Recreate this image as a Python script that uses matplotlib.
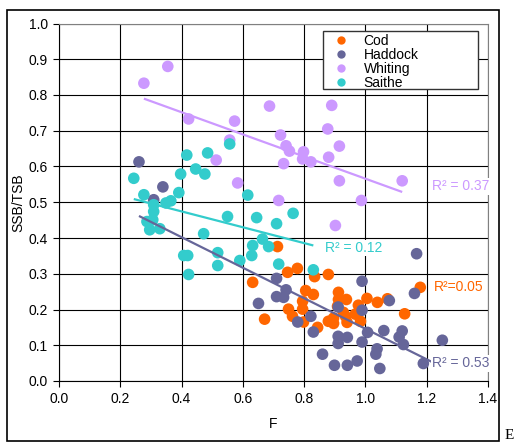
import numpy as np
import matplotlib
matplotlib.use("Agg")
import matplotlib.pyplot as plt
from matplotlib.patches import Rectangle
from matplotlib.lines import Line2D

plt.rcParams['font.family'] = ['Liberation Sans', 'DejaVu Sans']

# --- data (F, SSB/TSB) ---
cod_f = [0.632, 0.671, 0.713, 0.746, 0.749, 0.762, 0.778, 0.795, 0.795, 0.798,
         0.805, 0.830, 0.834, 0.844, 0.879, 0.879, 0.896, 0.896, 0.909, 0.912,
         0.912, 0.928, 0.935, 0.938, 0.940, 0.967, 0.977, 0.984, 1.005, 1.039,
         1.072, 1.128, 1.179]
cod_y = [0.276, 0.173, 0.376, 0.304, 0.201, 0.181, 0.315, 0.223, 0.201, 0.165,
         0.253, 0.242, 0.292, 0.150, 0.298, 0.167, 0.161, 0.176, 0.209, 0.248,
         0.228, 0.192, 0.181, 0.228, 0.164, 0.187, 0.212, 0.167, 0.231, 0.220,
         0.230, 0.188, 0.262]

haddock_f = [0.261, 0.309, 0.339, 0.651, 0.710, 0.710, 0.733, 0.741, 0.779, 0.822,
             0.830, 0.860, 0.899, 0.911, 0.911, 0.911, 0.941, 0.941, 0.973, 0.989,
             0.989, 0.989, 1.007, 1.034, 1.038, 1.047, 1.060, 1.078, 1.110, 1.120,
             1.124, 1.160, 1.167, 1.189, 1.251]
haddock_y = [0.613, 0.507, 0.543, 0.217, 0.287, 0.236, 0.234, 0.255, 0.165, 0.181,
             0.137, 0.075, 0.044, 0.207, 0.125, 0.105, 0.122, 0.044, 0.056, 0.279,
             0.198, 0.109, 0.136, 0.075, 0.090, 0.035, 0.141, 0.225, 0.123, 0.140,
             0.102, 0.245, 0.356, 0.049, 0.114]

whiting_f = [0.277, 0.355, 0.423, 0.513, 0.557, 0.573, 0.583, 0.687, 0.717, 0.723,
             0.733, 0.741, 0.752, 0.795, 0.798, 0.822, 0.877, 0.880, 0.890, 0.902,
             0.915, 0.915, 0.987, 1.120]
whiting_y = [0.833, 0.880, 0.733, 0.618, 0.674, 0.727, 0.554, 0.769, 0.505, 0.688,
             0.608, 0.658, 0.643, 0.621, 0.641, 0.613, 0.705, 0.626, 0.771, 0.435,
             0.657, 0.560, 0.505, 0.560]

saithe_f = [0.244, 0.277, 0.287, 0.296, 0.306, 0.309, 0.309, 0.329, 0.349, 0.365,
            0.391, 0.397, 0.407, 0.417, 0.420, 0.423, 0.446, 0.472, 0.476, 0.485,
            0.518, 0.518, 0.550, 0.557, 0.590, 0.616, 0.629, 0.632, 0.645, 0.664,
            0.684, 0.710, 0.717, 0.764, 0.830]
saithe_y = [0.567, 0.521, 0.446, 0.423, 0.451, 0.493, 0.474, 0.426, 0.498, 0.504,
            0.527, 0.579, 0.351, 0.632, 0.351, 0.298, 0.593, 0.412, 0.579, 0.638,
            0.359, 0.323, 0.460, 0.663, 0.337, 0.520, 0.351, 0.379, 0.457, 0.397,
            0.376, 0.440, 0.327, 0.469, 0.311]

series_names = ["Cod", "Haddock", "Whiting", "Saithe"]
series_colors = ["#FF6600", "#666699", "#CC99FF", "#33CCCC"]
r2_labels = ["R²=0.05", "R² = 0.53", "R² = 0.37", "R² = 0.12"]
r2_pos = [(1.224, 0.262), (1.217, 0.050), (1.217, 0.545), (0.868, 0.372)]
show_trend = [False, True, True, True]

xs = [cod_f, haddock_f, whiting_f, saithe_f]
ys = [cod_y, haddock_y, whiting_y, saithe_y]

W, H = 517, 443
fig = plt.figure(figsize=(W / 100, H / 100), dpi=100)
ax = fig.add_axes([59 / W, 1 - 381 / H, (488 - 59) / W, (381 - 23.5) / H])

for f, y, c, name in zip(xs, ys, series_colors, series_names):
    ax.scatter(f, y, s=70, color=c, edgecolors='none', label=name, zorder=2)

# linear trendlines (Excel style)
for f, y, c, show in zip(xs, ys, series_colors, show_trend):
    if not show:
        continue
    f = np.array(f)
    slope, icpt = np.polyfit(f, y, 1)
    xx = np.array([f.min(), f.max()])
    ax.plot(xx, slope * xx + icpt, color=c, lw=1.6, zorder=3, solid_capstyle='butt')

for lab, (px, py), c in zip(r2_labels, r2_pos, series_colors):
    ax.text(px, py, lab, color=c, fontsize=10, va='center', ha='left', zorder=5,
            clip_on=False, bbox=dict(facecolor='white', edgecolor='none', pad=1))

ax.set_xlim(0, 1.4)
ax.set_ylim(0, 1.0)
ax.set_xticks(np.arange(0, 1.41, 0.2))
ax.set_yticks(np.arange(0, 1.01, 0.1))
ax.xaxis.set_major_formatter(matplotlib.ticker.FormatStrFormatter('%.1f'))
ax.yaxis.set_major_formatter(matplotlib.ticker.FormatStrFormatter('%.1f'))
ax.tick_params(labelsize=10, length=4, width=0.8, color='black', pad=4)
ax.grid(True, color='black', lw=0.8)
ax.set_axisbelow(True)
for side in ['top', 'right']:
    ax.spines[side].set_color('#808080')
for side in ['left', 'bottom']:
    ax.spines[side].set_color('black')

ax.set_xlabel('F', fontsize=10, labelpad=8)
ax.set_ylabel('SSB/TSB', fontsize=10, labelpad=2)

# legend with its own frame
fig.patches.append(Rectangle((323 / W, 1 - 89 / H), (478 - 323) / W, (89 - 31) / H,
                             transform=fig.transFigure, fill=True, facecolor='white',
                             edgecolor='#333333', lw=1, zorder=4))
handles = [Line2D([], [], marker='o', ls='none', ms=6, color=c, markeredgewidth=0)
           for c in series_colors]
leg = fig.legend(handles, series_names, loc='upper left',
                 bbox_to_anchor=(333 / W, 1 - 34 / H), frameon=False, fontsize=10,
                 labelspacing=0.0, handlelength=1.2, handletextpad=1.0, borderpad=0,
                 borderaxespad=0)
leg.set_zorder(5)

# outer chart frame
fig.patches.append(Rectangle((7 / W, 1 - 441 / H), (499 - 7) / W, (441 - 10) / H,
                             transform=fig.transFigure, fill=False,
                             edgecolor='black', lw=1.2))
fig.text(505 / W, 1 - 442 / H, 'E', family=['Liberation Serif', 'DejaVu Serif'],
         fontsize=11, va='bottom', ha='left')

fig.savefig('out.png', dpi=100)
